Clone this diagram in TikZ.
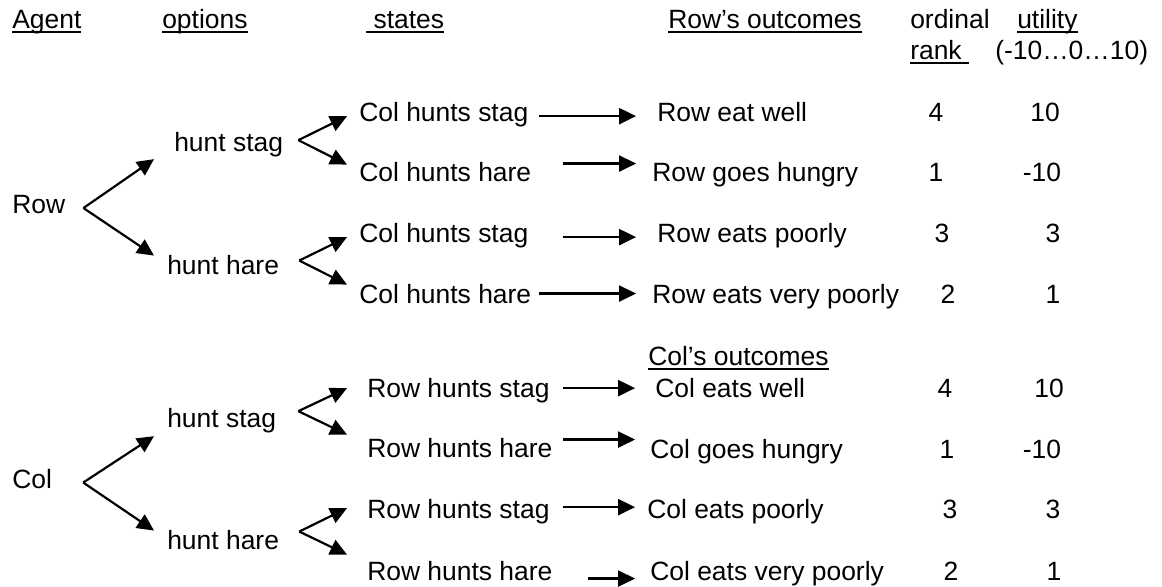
\documentclass[tikz,border=0pt]{standalone}
\usepackage{fontspec}
\setmainfont{Liberation Sans}
\usetikzlibrary{arrows.meta,calc}
\newsavebox{\ulbox}
\newcommand{\ulin}[1]{\sbox{\ulbox}{#1}\rlap{\rule[-0.12cm]{\wd\ulbox}{0.045cm}}\usebox{\ulbox}}

\begin{document}
\begin{tikzpicture}[x=0.025cm,y=-0.025cm,
    every node/.style={font=\fontsize{18.8}{22}\selectfont,inner sep=0pt},
    txt/.style={anchor=base west},
    num/.style={anchor=base},
    link/.style={line width=0.055cm,-{Triangle[length=0.42cm,width=0.4cm]}}]
        \useasboundingbox (0,0) rectangle (1162,586);

        % Column headings
        \node[txt] (agent) at (12,28) {\ulin{Agent}};
        \node[txt] (options) at (162,28) {\ulin{options}};
        \node[txt] (states) at (366,28) {\ulin{\ states}};
        \node[txt] (rowout) at (668,28) {\ulin{Row’s outcomes}};
        \node[txt] (ordinal) at (910,28) {ordinal};
        \node[txt] (rank) at (910,59) {\ulin{rank\ }};
        \node[txt] (utility) at (1017,28) {\ulin{utility}};
        \node[txt] (range) at (995,59) {(-10…0…10)};

        % Row's tree
        \node[txt] (row) at (12,213) {Row};
        \node[txt] (rstag) at (174,151) {hunt stag};
        \node[txt] (rhare) at (167,274) {hunt hare};
        \coordinate (rowfork) at ($(row.east)+(18,4)$);
        \coordinate (rstagfork) at ($(rstag.east)+(15,-4)$);
        \coordinate (rharefork) at ($(rhare.east)+(20,-4)$);
        \foreach \n/\y/\s in {1/121/stag,2/181/hare,3/242/stag,4/303/hare} {
            \node[txt] (cs\n) at (359,\y) {Col hunts \s};
        }
        \foreach \n/\x/\y/\t in {1/657/121/Row eat well,2/652/181/Row goes hungry,
                                 3/657/242/Row eats poorly,4/652/303/Row eats very poorly} {
            \node[txt] (rout\n) at (\x,\y) {\t};
        }
        \foreach \y/\a/\ax/\b/\bx [count=\i] in {121/4/936/10/1045,181/1/936/-10/1042,
                                                242/3/942/3/1053,303/2/948/1/1053} {
            \node[num] (rrank\i) at (\ax,\y) {\a};
            \node[num] (rutil\i) at (\bx,\y) {\b};
        }

        \draw[link] (rowfork) -- ($(rstag.west)+(-20,15)$);
        \draw[link] (rowfork) -- ($(rhare.west)+(-13,-9)$);
        \draw[link] (rstagfork) -- ($(cs1.west)+(-12,2)$);
        \draw[link] (rstagfork) -- ($(cs2.west)+(-12,-7)$);
        \draw[link] (rharefork) -- ($(cs3.west)+(-12,2)$);
        \draw[link] (rharefork) -- ($(cs4.west)+(-12,-9)$);
        \foreach \n/\a/\b/\dy in {1/10/21/2,2/31/16/-8,3/34/21/2,4/7/16/0} {
            \draw[link] ($(cs\n.east)+(\a,\dy)$) -- ($(cs\n.east -| rout\n.west)+(-\b,\dy)$);
        }

        % Col's tree
        \node[txt] (col) at (12,488) {Col};
        \node[txt] (cstag) at (167,427) {hunt stag};
        \node[txt] (chare) at (167,549) {hunt hare};
        \coordinate (colfork) at ($(col.east)+(31,4)$);
        \coordinate (cstagfork) at ($(cstag.east)+(22,-9)$);
        \coordinate (charefork) at ($(chare.east)+(20,-8)$);
        \foreach \n/\y/\s in {1/397/stag,2/457/hare,3/518/stag,4/580/hare} {
            \node[txt] (rs\n) at (367,\y) {Row hunts \s};
        }
        \node[txt] (colout) at (648,365) {\ulin{Col’s outcomes}};
        \foreach \n/\x/\y/\t in {1/655/397/Col eats well,2/650/458/Col goes hungry,
                                 3/647/518/Col eats poorly,4/650/580/Col eats very poorly} {
            \node[txt] (cout\n) at (\x,\y) {\t};
        }
        \foreach \y/\a/\ax/\b/\bx [count=\i] in {397/4/945/10/1049,458/1/947/-10/1042,
                                                518/3/950/3/1053,580/2/951/1/1054} {
            \node[num] (crank\i) at (\ax,\y) {\a};
            \node[num] (cutil\i) at (\bx,\y) {\b};
        }

        \draw[link] (colfork) -- ($(cstag.west)+(-13,16)$);
        \draw[link] (colfork) -- ($(chare.west)+(-13,-9)$);
        \draw[link] (cstagfork) -- ($(rs1.west)+(-20,-2)$);
        \draw[link] (cstagfork) -- ($(rs2.west)+(-20,-13)$);
        \draw[link] (charefork) -- ($(rs3.west)+(-20,-3)$);
        \draw[link] (charefork) -- ($(rs4.west)+(-20,-16)$);
        \foreach \n/\a/\b/\dy in {1/13/20/-2,2/10/15/-8,3/13/12/-4,4/35/15/8} {
            \draw[link] ($(rs\n.east)+(\a,\dy)$) -- ($(rs\n.east -| cout\n.west)+(-\b,\dy)$);
        }
    \end{tikzpicture}
\end{document}
